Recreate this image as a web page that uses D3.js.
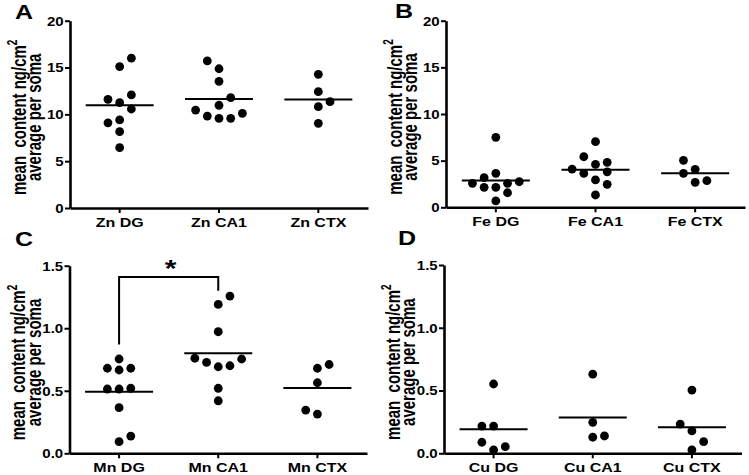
<!DOCTYPE html>
<html>
<head>
<meta charset="utf-8">
<script src="https://cdn.jsdelivr.net/npm/d3@7"></script>
<style>
  body { margin: 0; background: #fff; }
  svg { display: block; }
</style>
</head>
<body>
<div id="chart"></div>
<script>
// ---- data ----
const znCats = ["Zn DG", "Zn CA1", "Zn CTX"];
const feCats = ["Fe DG", "Fe CA1", "Fe CTX"];
const mnCats = ["Mn DG", "Mn CA1", "Mn CTX"];
const cuCats = ["Cu DG", "Cu CA1", "Cu CTX"];

const znDG  = [15.1, 16.0, 11.25, 11.6, 10.57, 12.07, 9.4, 9.1, 8.15, 6.44];
const znCA1 = [10.97, 9.58, 9.58, 14.87, 15.7, 13.53, 11.78, 9.82, 10.11, 10.46];
const znCTX = [14.27, 12.42, 10.82, 11.35, 9.04];

const feDG  = [7.5, 3.64, 2.14, 2.57, 3.17, 2.14, 2.74, 2.57, 1.56, 0.68];
const feCA1 = [7.03, 4.6, 4.82, 5.42, 2.93, 2.46, 3.64, 3.8, 4.1, 1.32];
const feCTX = [4.07, 2.68, 2.85, 5.03, 3.64];

const mnDG  = [0.754, 0.666, 0.68, 0.68, 0.514, 0.52, 0.514, 0.365, 0.093, 0.138];
const mnCA1 = [1.19, 1.257, 0.972, 0.692, 0.727, 0.70, 0.76, 0.754, 0.52, 0.42];
const mnCTX = [0.68, 0.71, 0.564, 0.314, 0.346];

const cuDG  = [0.552, 0.217, 0.027, 0.053, 0.217, 0.088];
const cuCA1 = [0.63, 0.247, 0.128, 0.138];
const cuCTX = [0.504, 0.178, 0.027, 0.093, 0.233];

const ticksZnFe = [0, 5, 10, 15, 20];
const ticksMnCu = [0, 0.5, 1.0, 1.5];

// significance bracket in panel C (Mn DG vs Mn CA1)
const sigPair = ["Mn DG", "Mn CA1"];
const sigTop = 1.41;
const sigFeet = [0.87, 1.30];
const sigLabel = "*";

// ---- layout ----
const width = 749, height = 475;
const FONT = "'Liberation Sans', Arial, Helvetica, sans-serif";
const SX = 1.25;          // the figure is slightly stretched sideways
const dotR = 4.4;
const step = 11.7;        // horizontal spacing of side-by-side dots
const minGap = 9.2;       // vertical distance below which dots get pushed aside
const meanHalf = 34;

const panels = [
    { letter: "A", cats: znCats, groups: [znDG, znCA1, znCTX], ticks: ticksZnFe, fmt: d3.format("d"),
      ax: 70, xr: 368, y0: 208, y1: 20.7, lx: 15, ly: 18.5 },
    { letter: "B", cats: feCats, groups: [feDG, feCA1, feCTX], ticks: ticksZnFe, fmt: d3.format("d"),
      ax: 446, xr: 745, y0: 207.3, y1: 20.7, lx: 395, ly: 18.3 },
    { letter: "C", cats: mnCats, groups: [mnDG, mnCA1, mnCTX], ticks: ticksMnCu, fmt: d3.format(".1f"),
      ax: 69.5, xr: 367, y0: 453.3, y1: 265.7, lx: 15, ly: 245.5, sig: true },
    { letter: "D", cats: cuCats, groups: [cuDG, cuCA1, cuCTX], ticks: ticksMnCu, fmt: d3.format(".1f"),
      ax: 444, xr: 741.5, y0: 453.3, y1: 265, lx: 398, ly: 244.5 }
];

const svg = d3.select("#chart")
    .append("svg")
    .attr("width", width)
    .attr("height", height)
    .style("font-family", FONT);

// simple column scatter: push colliding dots to the side, balancing both sides
const swarm = (values, yScale) => {
    const placed = [];
    return values.map(v => {
        const py = yScale(v);
        const free = k => placed.every(p => p.k !== k || Math.abs(p.py - py) >= minGap);
        let k = 0;
        if (!free(0)) {
            for (let s = 1; s < 10; s++) {
                const L = free(-s), R = free(s);
                if (L && R) {
                    const nl = placed.filter(p => p.k < 0).length;
                    const nr = placed.filter(p => p.k > 0).length;
                    k = nl < nr ? -s : s;
                    break;
                }
                if (R) { k = s; break; }
                if (L) { k = -s; break; }
            }
        }
        placed.push({ k, py });
        return { v, dx: k * step };
    });
};

panels.forEach(p => {
    const g = svg.append("g");

    const y = d3.scaleLinear()
        .domain([0, d3.max(p.ticks)])
        .range([p.y0, p.y1]);

    const x = d3.scaleBand()
        .domain(p.cats)
        .range([p.ax, p.xr])
        .padding(0);

    // y axis
    const yAxis = g.append("g")
        .attr("transform", `translate(${p.ax},0)`)
        .call(d3.axisLeft(y).tickValues(p.ticks).tickFormat(p.fmt).tickSize(5).tickSizeOuter(0));
    yAxis.attr("font-family", null).attr("font-size", null);
    yAxis.select(".domain").attr("stroke", "#000").attr("stroke-width", 2.6);
    yAxis.selectAll(".tick line").attr("stroke", "#000").attr("stroke-width", 2);
    yAxis.selectAll(".tick text")
        .attr("x", -6.3 / SX)
        .attr("dy", "0.36em")
        .attr("transform", `scale(${SX},1)`)
        .style("font-size", "12px")
        .style("font-weight", "bold")
        .attr("fill", "#000");

    // x axis
    const xAxis = g.append("g")
        .attr("transform", `translate(0,${p.y0})`)
        .call(d3.axisBottom(x).tickSize(5).tickSizeOuter(0));
    xAxis.attr("font-family", null).attr("font-size", null);
    xAxis.select(".domain").attr("stroke", "#000").attr("stroke-width", 2.6);
    xAxis.selectAll(".tick line").attr("stroke", "#000").attr("stroke-width", 2);
    xAxis.selectAll(".tick text")
        .attr("y", 19)
        .attr("dy", null)
        .attr("transform", `scale(${SX},1)`)
        .style("font-size", "12.8px")
        .style("font-weight", "bold")
        .attr("fill", "#000");

    // y title (two rotated lines)
    const cy = (p.y0 + p.y1) / 2 + 3;
    const t1 = g.append("text")
        .attr("transform", `translate(${p.ax - 44.5},${cy}) scale(1.4,1) rotate(-90)`)
        .attr("text-anchor", "middle")
        .style("font-size", "15px")
        .style("font-weight", "bold");
    t1.append("tspan").text("mean\u00a0 content ng/cm");
    t1.append("tspan").text("2").attr("dy", -6).style("font-size", "10px");
    g.append("text")
        .attr("transform", `translate(${p.ax - 29},${cy}) scale(1.4,1) rotate(-90)`)
        .attr("text-anchor", "middle")
        .style("font-size", "15px")
        .style("font-weight", "bold")
        .text("average per soma");

    // panel letter
    g.append("text")
        .attr("transform", `translate(${p.lx},${p.ly}) scale(${SX},1)`)
        .style("font-size", "20px")
        .style("font-weight", "bold")
        .text(p.letter);

    // dots + mean lines per group
    p.cats.forEach((cat, i) => {
        const cx = x(cat) + x.bandwidth() / 2;
        const pts = swarm(p.groups[i], y);

        g.selectAll(null)
            .data(pts)
            .enter()
            .append("circle")
            .attr("cx", d => cx + d.dx)
            .attr("cy", d => y(d.v))
            .attr("r", dotR)
            .attr("fill", "#000");

        const m = d3.mean(p.groups[i]);
        g.append("line")
            .attr("x1", cx - meanHalf)
            .attr("x2", cx + meanHalf)
            .attr("y1", y(m))
            .attr("y2", y(m))
            .attr("stroke", "#000")
            .attr("stroke-width", 2);
    });

    // significance bracket
    if (p.sig) {
        const xa = x(sigPair[0]) + x.bandwidth() / 2;
        const xb = x(sigPair[1]) + x.bandwidth() / 2;
        g.append("path")
            .attr("d", `M${xa},${y(sigFeet[0])}V${y(sigTop)}H${xb}V${y(sigFeet[1])}`)
            .attr("fill", "none")
            .attr("stroke", "#000")
            .attr("stroke-width", 2);
        g.append("text")
            .attr("transform", `translate(${(xa + xb) / 2 + 2},${y(sigTop)}) scale(${SX},1)`)
            .attr("text-anchor", "middle")
            .style("font-size", "24px")
            .style("font-weight", "bold")
            .text(sigLabel);
    }
});
</script>
</body>
</html>
